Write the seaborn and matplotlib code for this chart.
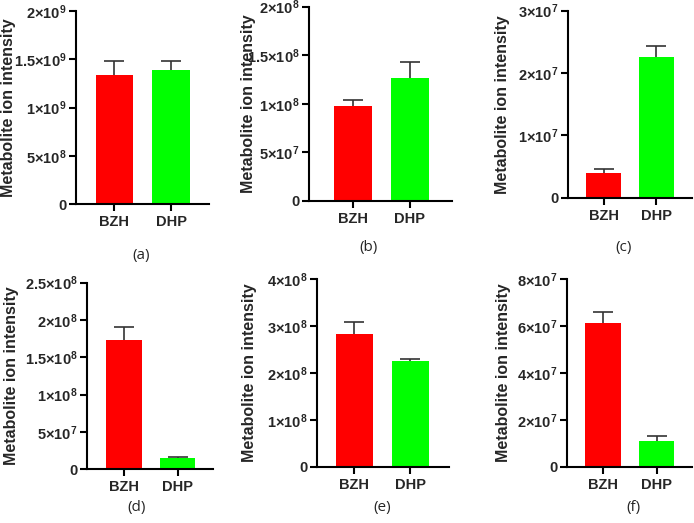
import matplotlib
matplotlib.use("Agg")
import matplotlib.pyplot as plt
import seaborn as sns
import pandas as pd

sns.set_style("ticks")
plt.rcParams["font.family"] = ["Liberation Sans", "DejaVu Sans"]
plt.rcParams["mathtext.fontset"] = "custom"
plt.rcParams["mathtext.rm"] = "Liberation Sans:bold"
plt.rcParams["mathtext.bf"] = "Liberation Sans:bold"
plt.rcParams["mathtext.it"] = "Liberation Sans:bold"

categories = ["BZH", "DHP"]
colors = ["#FF0000", "#00FF00"]
ylabel = "Metabolite ion intensity"
panel_labels = ["(a)", "(b)", "(c)", "(d)", "(e)", "(f)"]

means_a = [1.335e9, 1.393e9]
err_a = [0.145e9, 0.087e9]
means_b = [0.978e8, 1.266e8]
err_b = [0.062e8, 0.164e8]
means_c = [0.396e7, 2.257e7]
err_c = [0.064e7, 0.183e7]
means_d = [1.728e8, 0.151e8]
err_d = [0.172e8, 0.019e8]
means_e = [2.83e8, 2.256e8]
err_e = [0.25e8, 0.034e8]
means_f = [6.11e7, 1.095e7]
err_f = [0.47e7, 0.225e7]

ticks_a = [0, 5e8, 1e9, 1.5e9, 2e9]
tlab_a = ["0", r"$5{\times}10^{8}$", r"$1{\times}10^{9}$", r"$1.5{\times}10^{9}$", r"$2{\times}10^{9}$"]
ticks_b = [0, 5e7, 1e8, 1.5e8, 2e8]
tlab_b = ["0", r"$5{\times}10^{7}$", r"$1{\times}10^{8}$", r"$1.5{\times}10^{8}$", r"$2{\times}10^{8}$"]
ticks_c = [0, 1e7, 2e7, 3e7]
tlab_c = ["0", r"$1{\times}10^{7}$", r"$2{\times}10^{7}$", r"$3{\times}10^{7}$"]
ticks_d = [0, 5e7, 1e8, 1.5e8, 2e8, 2.5e8]
tlab_d = ["0", r"$5{\times}10^{7}$", r"$1{\times}10^{8}$", r"$1.5{\times}10^{8}$", r"$2{\times}10^{8}$", r"$2.5{\times}10^{8}$"]
ticks_e = [0, 1e8, 2e8, 3e8, 4e8]
tlab_e = ["0", r"$1{\times}10^{8}$", r"$2{\times}10^{8}$", r"$3{\times}10^{8}$", r"$4{\times}10^{8}$"]
ticks_f = [0, 2e7, 4e7, 6e7, 8e7]
tlab_f = ["0", r"$2{\times}10^{7}$", r"$4{\times}10^{7}$", r"$6{\times}10^{7}$", r"$8{\times}10^{7}$"]

panels = [
    (means_a, err_a, ticks_a, tlab_a),
    (means_b, err_b, ticks_b, tlab_b),
    (means_c, err_c, ticks_c, tlab_c),
    (means_d, err_d, ticks_d, tlab_d),
    (means_e, err_e, ticks_e, tlab_e),
    (means_f, err_f, ticks_f, tlab_f),
]

W, H = 694, 523
fig = plt.figure(figsize=(W / 100, H / 100), dpi=100)

# layout in pixels: (x_left, x_right, y_top, y_bottom), xlim, ylabel center x, panel label (x, y)
layout = [
    ((76, 209, 11, 204.3), (-0.68, 1.67), 9, (141, 255)),
    ((309, 452, 6.7, 201), (-0.77, 1.74), 249, (369, 247)),
    ((568, 692, 10.7, 197.7), (-0.67, 1.67), 503, (624, 247)),
    ((87, 213, 282.7, 469.3), (-0.69, 1.66), 11.5, (137, 508)),
    ((317, 449, 279.3, 466.7), (-0.67, 1.69), 249.5, (382, 508)),
    ((567, 692, 279, 466.7), (-0.67, 1.66), 503.5, (633, 508)),
]

for (means, errs, ticks, tlabs), ((x0, x1, y0, y1), xlim, ylx, (plx, ply)), plab in zip(panels, layout, panel_labels):
    ax = fig.add_axes([x0 / W, 1 - y1 / H, (x1 - x0) / W, (y1 - y0) / H])
    df = pd.DataFrame({"group": categories, "value": means})
    sns.barplot(data=df, x="group", y="value", hue="group", palette=colors,
                order=categories, hue_order=categories, errorbar=None,
                width=0.66, legend=False, ax=ax, saturation=1, linewidth=0)
    eb = ax.errorbar(x=[0, 1], y=means, yerr=[[0, 0], errs], fmt="none",
                     ecolor="#333333", elinewidth=1.2, capsize=7, capthick=1.2, zorder=0.5)
    eb[1][0].set_visible(False)
    ax.set_xlim(*xlim)
    ax.set_ylim(ticks[0], ticks[-1])
    ax.set_yticks(ticks)
    ax.set_yticklabels(tlabs)
    ax.set_xlabel("")
    ax.set_ylabel(ylabel, fontsize=11.5, fontweight="bold")
    ax.yaxis.label.set_verticalalignment("center")
    lx = (ylx - x0) / (x1 - x0)
    ax.yaxis.set_label_coords(lx, 0.5)
    for s in ["top", "right"]:
        ax.spines[s].set_visible(False)
    for s in ["left", "bottom"]:
        ax.spines[s].set_linewidth(1.5)
        ax.spines[s].set_color("black")
    ax.tick_params(axis="both", direction="out", length=5, width=1.5, color="black")
    ax.tick_params(axis="y", labelsize=10.5, pad=2)
    ax.tick_params(axis="x", labelsize=10.5, pad=3)
    for t in ax.get_xticklabels():
        t.set_fontweight("bold")
    for t in ax.get_yticklabels():
        t.set_fontweight("bold")
    fig.text(plx / W, 1 - ply / H, plab, ha="center", va="center",
             fontsize=11, family=["Open Sans", "DejaVu Sans"])

fig.savefig("out.png", dpi=100)
